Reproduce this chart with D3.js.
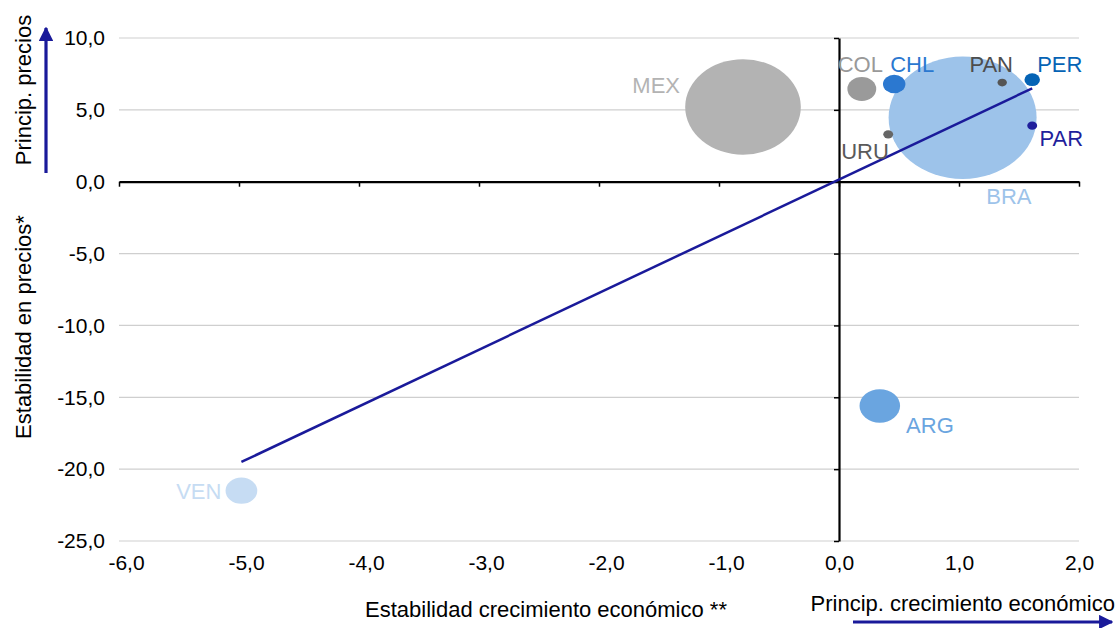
<!DOCTYPE html>
<html>
<head>
<meta charset="utf-8">
<script src="https://cdn.jsdelivr.net/npm/d3@7"></script>
<style>
  html, body { margin: 0; padding: 0; background: #fff; }
  svg { display: block; font-family: "Liberation Sans", Arial, Helvetica, sans-serif; }
</style>
</head>
<body>
<svg id="chart" width="1118" height="628"></svg>
<script>
// Countries, growth-stability (x), price-stability (y) and bubble size
const countries = ["BRA", "MEX", "ARG", "VEN", "COL", "CHL", "PER", "PAN", "PAR", "URU"];
const growthStability = [1.03, -0.80, 0.34, -4.98, 0.19, 0.46, 1.61, 1.36, 1.61, 0.41];
const priceStability = [4.45, 5.2, -15.6, -21.5, 6.45, 6.8, 7.1, 6.9, 3.9, 3.3];
const bubbleSize = [100, 61, 7.5, 4.6, 3.8, 2.3, 1.1, 0.4, 0.45, 0.45];
const bubbleColors = ["#9dc3ea", "#b3b3b3", "#6aa5e0", "#c6dcf3", "#9a9a9a", "#2b78d0", "#0563b5", "#555555", "#1f1f9c", "#666666"];
const labelColors = ["#9dc3ea", "#b3b3b3", "#6aa5e0", "#c6dcf3", "#999999", "#2b78d0", "#0563b5", "#4d4d4d", "#1f1f9c", "#5a5a5a"];

// Trend line end points
const trendX = [-4.98, 1.61];
const trendY = [-19.5, 6.5];

// Axis ticks
const xTicks = [-6, -5, -4, -3, -2, -1, 0, 1, 2];
const yTicks = [10, 5, 0, -5, -10, -15, -20, -25];

const svg = d3.select("#chart");
const plotLeft = 119, plotRight = 1079, plotTop = 38, plotBottom = 541;

const x = d3.scaleLinear().domain([-6, 2]).range([plotLeft, plotRight]);
const y = d3.scaleLinear().domain([-25, 10]).range([plotBottom, plotTop]);
// bubbles are stretched horizontally like the plot's aspect
const r = d3.scaleSqrt().domain([0, 100]).range([0, 74]);
const aspect = 1.21;

const locale = d3.formatLocale({ decimal: ",", thousands: ".", grouping: [3], currency: ["", ""], minus: "-" });
const fmt = locale.format(".1f");

const tickFont = 21;
const labelFont = 22;
const titleFont = 22;
const axisColor = "#000";
const accent = "#1a1a9a";

// Horizontal gridlines
svg.append("g")
  .selectAll("line")
  .data(yTicks.filter(d => d !== 0))
  .join("line")
  .attr("x1", plotLeft).attr("x2", plotRight)
  .attr("y1", d => y(d)).attr("y2", d => y(d))
  .attr("stroke", "#cfcfcf").attr("stroke-width", 1.2);

// Tick labels along the plot edges
const xLabels = svg.append("g")
  .attr("transform", `translate(0,${plotBottom})`)
  .call(d3.axisBottom(x).tickValues(xTicks).tickFormat(fmt).tickSize(0).tickPadding(14));
xLabels.select(".domain").remove();
xLabels.selectAll("text")
  .attr("font-size", tickFont).attr("font-family", null).attr("fill", "#000")
  // the leading minus hangs to the left of the centred number
  .attr("dx", d => d < 0 ? 7 : 0);

const yLabels = svg.append("g")
  .attr("transform", `translate(${plotLeft},0)`)
  .call(d3.axisLeft(y).tickValues(yTicks).tickFormat(fmt).tickSize(0).tickPadding(14));
yLabels.select(".domain").remove();
yLabels.selectAll("text").attr("font-size", tickFont).attr("font-family", null).attr("fill", "#000");

// Bubbles, largest first
const data = countries.map((c, i) => ({
  name: c, gx: growthStability[i], py: priceStability[i], size: bubbleSize[i],
  fill: bubbleColors[i], labelFill: labelColors[i]
}));

svg.append("g")
  .selectAll("ellipse")
  .data(data.slice().sort((a, b) => b.size - a.size))
  .join("ellipse")
  .attr("cx", d => x(d.gx))
  .attr("cy", d => y(d.py))
  .attr("rx", d => r(d.size))
  .attr("ry", d => r(d.size) / aspect)
  .attr("fill", d => d.fill);

// Axes crossing at the origin
const xAxis = svg.append("g")
  .attr("transform", `translate(0,${y(0)})`)
  .call(d3.axisBottom(x).tickValues(xTicks).tickFormat("").tickSize(5).tickSizeOuter(0));
xAxis.select(".domain").attr("stroke", axisColor).attr("stroke-width", 2.2);
xAxis.selectAll(".tick line").attr("stroke", axisColor).attr("stroke-width", 1.5);

const yAxis = svg.append("g")
  .attr("transform", `translate(${x(0)},0)`)
  .call(d3.axisLeft(y).tickValues(yTicks).tickFormat("").tickSize(5).tickSizeOuter(0));
yAxis.select(".domain").attr("stroke", axisColor).attr("stroke-width", 2.2);
yAxis.selectAll(".tick line").attr("stroke", axisColor).attr("stroke-width", 1.5);

// Trend line
svg.append("line")
  .attr("x1", x(trendX[0])).attr("y1", y(trendY[0]))
  .attr("x2", x(trendX[1])).attr("y2", y(trendY[1]))
  .attr("stroke", accent).attr("stroke-width", 2.5);

// Country labels placed around each bubble
const labelPlacement = {
  MEX: { dx: -63, dy: -14, anchor: "end" },
  COL: { dx: -1.5, dy: -17, anchor: "middle" },
  CHL: { dx: 18, dy: -12, anchor: "middle" },
  PAN: { dx: -11, dy: -10.7, anchor: "middle" },
  PER: { dx: 5, dy: -7.7, anchor: "start" },
  PAR: { dx: 7.3, dy: 20.7, anchor: "start" },
  URU: { dx: -47, dy: 24.6, anchor: "start" },
  BRA: { dx: 23.7, dy: 86, anchor: "start" },
  ARG: { dx: 26.3, dy: 26.7, anchor: "start" },
  VEN: { dx: -20, dy: 8.5, anchor: "end" }
};

svg.append("g")
  .selectAll("text")
  .data(data)
  .join("text")
  .attr("x", d => x(d.gx) + labelPlacement[d.name].dx)
  .attr("y", d => y(d.py) + labelPlacement[d.name].dy)
  .attr("text-anchor", d => labelPlacement[d.name].anchor)
  .attr("font-size", labelFont)
  .attr("fill", d => d.labelFill)
  .text(d => d.name);

// Axis titles
svg.append("text")
  .attr("x", 546).attr("y", 617)
  .attr("text-anchor", "middle")
  .attr("font-size", titleFont)
  .text("Estabilidad crecimiento económico **");

svg.append("text")
  .attr("x", 1115).attr("y", 611)
  .attr("text-anchor", "end")
  .attr("font-size", titleFont)
  .text("Princip. crecimiento económico");

svg.append("text")
  .attr("transform", "translate(31,327) rotate(-90)")
  .attr("text-anchor", "middle")
  .attr("font-size", titleFont)
  .text("Estabilidad en precios*");

svg.append("text")
  .attr("transform", "translate(31,90) rotate(-90)")
  .attr("text-anchor", "middle")
  .attr("font-size", titleFont)
  .text("Princip. precios");

// Direction arrows
const defs = svg.append("defs");
defs.append("marker")
  .attr("id", "arrowHead")
  .attr("viewBox", "0 0 10 10")
  .attr("refX", 9).attr("refY", 5)
  .attr("markerWidth", 4.5).attr("markerHeight", 4.5)
  .attr("markerUnits", "strokeWidth")
  .attr("orient", "auto")
  .append("path")
  .attr("d", "M0,0 L10,5 L0,10 Z")
  .attr("fill", accent);

svg.append("line")
  .attr("x1", 46).attr("y1", 173).attr("x2", 46).attr("y2", 28)
  .attr("stroke", accent).attr("stroke-width", 3.2)
  .attr("marker-end", "url(#arrowHead)");

svg.append("line")
  .attr("x1", 853).attr("y1", 622).attr("x2", 1112).attr("y2", 622)
  .attr("stroke", accent).attr("stroke-width", 3.2)
  .attr("marker-end", "url(#arrowHead)");
</script>
</body>
</html>
